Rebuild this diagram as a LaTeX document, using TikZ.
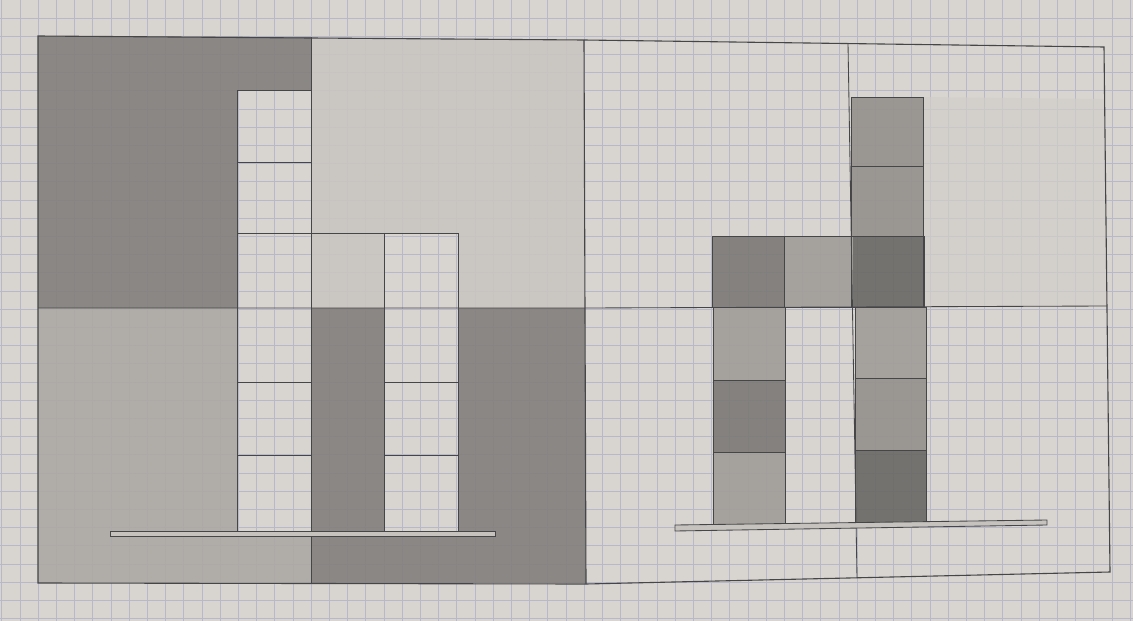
\documentclass[tikz,border=0pt]{standalone}
\definecolor{paper}{RGB}{216,212,208}
\definecolor{gridc}{RGB}{184,185,200}
\definecolor{linec}{RGB}{70,70,72}
\definecolor{lightsh}{RGB}{201,197,193}
\definecolor{faintsh}{RGB}{210,206,202}
\definecolor{midsh}{RGB}{172,168,164}
\definecolor{darksh}{RGB}{130,127,124}
\definecolor{cellA}{RGB}{160,157,153}
\definecolor{cellB}{RGB}{148,145,141}
\definecolor{cellC}{RGB}{124,121,118}
\definecolor{cellD}{RGB}{106,104,101}
\definecolor{ledgec}{RGB}{198,195,191}
\begin{document}
\begin{tikzpicture}[x=1pt,y=-1pt,
  gridline/.style={draw=gridc,line width=0.45pt},
  pencil/.style={draw=linec,line width=1.1pt},
  thinpencil/.style={draw=linec,line width=0.85pt},
  shade/.style={fill opacity=0.9}]
\useasboundingbox (0,0) rectangle (1133,621);
\fill[paper] (0,0) rectangle (1133,621);
% grid paper
\foreach \i in {0,...,62} {\draw[gridline] ({1.6+\i*18.2},0) -- ++(0,621);}
\foreach \j in {0,...,34} {\draw[gridline] (0,{-0.4+\j*18.2}) -- ++(1133,0);}

% ---------- left half: shading ----------
\fill[lightsh,shade] (311,37) -- (584,40) -- (585,308) -- (458,308) -- (458,233) -- (384,233) -- (384,308) -- (311,308) -- cycle;
\fill[darksh,shade] (38,36) -- (311,37) -- (311,90) -- (237,90) -- (237,308) -- (38,308) -- cycle;
\fill[midsh,shade] (38,308) -- (237,308) -- (237,531) -- (311,531) -- (311,583) -- (38,583) -- cycle;
\fill[darksh,shade] (311,308) -- (384,308) -- (384,531) -- (458,531) -- (458,308) -- (585,308) -- (586,583) -- (311,583) -- cycle;

% ---------- right half: shading ----------
\fill[faintsh,fill opacity=0.7] (924,97) -- (1104,99) -- (1107,306) -- (924,307) -- cycle;
\fill[cellB,shade] (851,97) rectangle (923,166);
\fill[cellB,shade] (851,166) rectangle (923,236);
\fill[cellC,shade] (712,236) rectangle (784,307);
\fill[cellA,shade] (784,236) rectangle (853,307);
\fill[cellD,shade] (853,236) rectangle (924,307);
\fill[cellA,shade] (713,307) rectangle (785,380);
\fill[cellC,shade] (713,380) rectangle (785,452);
\fill[cellA,shade] (713,452) rectangle (785,525);
\fill[cellA,shade] (855,307) rectangle (926,378);
\fill[cellB,shade] (855,378) rectangle (926,450);
\fill[cellD,shade] (855,450) rectangle (926,522);

% ---------- frame and centre lines ----------
\draw[pencil] (38,36) -- (584,40) -- (1104,47) -- (1110,572) -- (586,584) -- (38,583) -- cycle;
\draw[pencil] (584,40) -- (586,584);
\draw[thinpencil] (38,308) -- (585,308) -- (1107,306);
\draw[thinpencil] (311,37) -- (311,583);
\draw[thinpencil] (848,43) -- (857,578);

% ---------- left half: boxes ----------
\draw[thinpencil] (237,90) -- (311,90);
\draw[thinpencil] (237,90) -- (237,531);
\draw[thinpencil] (237,162) -- (311,162);
\draw[thinpencil] (237,233) -- (458,233);
\draw[thinpencil] (384,233) -- (384,531);
\draw[thinpencil] (458,233) -- (458,531);
\draw[thinpencil] (237,382) -- (311,382);
\draw[thinpencil] (384,382) -- (458,382);
\draw[thinpencil] (237,455) -- (311,455);
\draw[thinpencil] (384,455) -- (458,455);
\draw[thinpencil,fill=ledgec] (110,531) rectangle (495,536);

% ---------- right half: boxes ----------
\draw[thinpencil] (851,97) rectangle (923,307);
\draw[thinpencil] (851,166) -- (923,166);
\draw[thinpencil] (712,236) rectangle (924,307);
\draw[thinpencil] (784,236) -- (784,307);
\draw[thinpencil] (713,307) rectangle (785,525);
\draw[thinpencil] (713,380) -- (785,380);
\draw[thinpencil] (713,452) -- (785,452);
\draw[thinpencil] (855,307) rectangle (926,522);
\draw[thinpencil] (855,378) -- (926,378);
\draw[thinpencil] (855,450) -- (926,450);
\draw[thinpencil,fill=ledgec] (675,525) -- (1047,520) -- (1047,525) -- (675,531) -- cycle;
\end{tikzpicture}
\end{document}
